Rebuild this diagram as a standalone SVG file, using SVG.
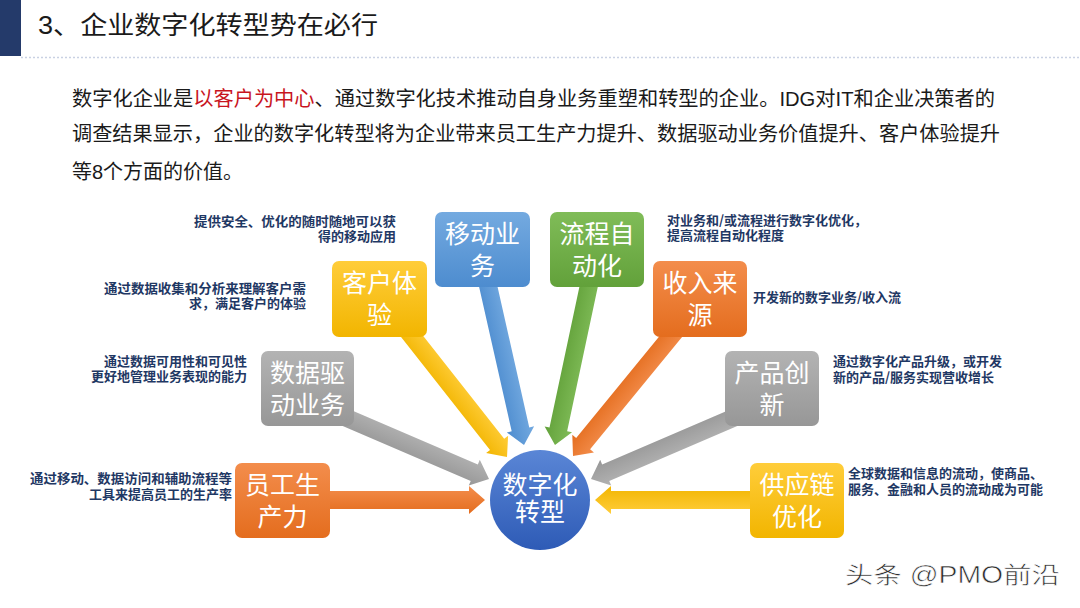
<svg xmlns="http://www.w3.org/2000/svg" width="1080" height="608" viewBox="0 0 1080 608">
<defs>
<linearGradient id="gBlue" x1="0" y1="0" x2="0" y2="1"><stop offset="0" stop-color="#74aae0"/><stop offset="1" stop-color="#4d8ccf"/></linearGradient>
<linearGradient id="gGreen" x1="0" y1="0" x2="0" y2="1"><stop offset="0" stop-color="#80bc58"/><stop offset="1" stop-color="#62a13a"/></linearGradient>
<linearGradient id="gYellow" x1="0" y1="0" x2="0" y2="1"><stop offset="0" stop-color="#ffcd3a"/><stop offset="1" stop-color="#f2b500"/></linearGradient>
<linearGradient id="gOrange" x1="0" y1="0" x2="0" y2="1"><stop offset="0" stop-color="#f38d4c"/><stop offset="1" stop-color="#e46d1e"/></linearGradient>
<linearGradient id="gGray" x1="0" y1="0" x2="0" y2="1"><stop offset="0" stop-color="#b3b3b3"/><stop offset="1" stop-color="#979797"/></linearGradient>
<linearGradient id="gCircle" x1="0" y1="0" x2="0" y2="1"><stop offset="0" stop-color="#5a86d6"/><stop offset="1" stop-color="#2e5bb6"/></linearGradient>
<style>
.para{font-family:"Liberation Sans","Noto Sans CJK SC",sans-serif;font-size:20px;fill:#1a1a1a}
.node rect{stroke:none}
.nt{font-family:"Noto Sans CJK SC",sans-serif;font-size:25px;fill:#ffffff;text-anchor:middle}
.desc{font-family:"Noto Sans CJK SC",sans-serif;font-size:13px;font-weight:600;fill:#1f3864}
.r{text-anchor:end}
</style>
</defs>
<rect width="1080" height="608" fill="#ffffff"/>
<!-- header -->
<rect x="0" y="0" width="21" height="56" fill="#243a6a"/>
<text x="38" y="34" font-family="Liberation Sans,'Noto Sans CJK SC',sans-serif" font-size="25" fill="#1a1a1a" textLength="340" lengthAdjust="spacingAndGlyphs">3、企业数字化转型势在必行</text>
<line x1="21" y1="57.5" x2="1080" y2="57.5" stroke="#c9d1e3" stroke-width="1.5" stroke-dasharray="2,2"/>
<!-- paragraph -->
<text class="para" x="72" y="106" textLength="923" lengthAdjust="spacingAndGlyphs">数字化企业是<tspan fill="#c8141e">以客户为中心</tspan>、通过数字化技术推动自身业务重塑和转型的企业。IDG对IT和企业决策者的</text>
<text class="para" x="72" y="141" textLength="928" lengthAdjust="spacingAndGlyphs">调查结果显示，企业的数字化转型将为企业带来员工生产力提升、数据驱动业务价值提升、客户体验提升</text>
<text class="para" x="72" y="179">等8个方面的价值。</text>
<!-- connectors -->
<g id="connectors">
<polygon fill="url(#gBlue)" transform="translate(524,445) rotate(77.3)" points="-170,-9 -16,-9 -16,-14 0,0 -16,14 -16,9 -170,9"/>
<polygon fill="url(#gGreen)" transform="translate(555,445) rotate(102)" points="-170,-9 -16,-9 -16,-14 0,0 -16,14 -16,9 -170,9"/>
<polygon fill="url(#gYellow)" transform="translate(507,457) rotate(51.8)" points="-200,-9 -16,-9 -16,-14 0,0 -16,14 -16,9 -200,9"/>
<polygon fill="url(#gOrange)" transform="translate(573,456) rotate(129.3)" points="-190,-9 -16,-9 -16,-14 0,0 -16,14 -16,9 -190,9"/>
<polygon fill="url(#gGray)" transform="translate(489,479) rotate(23.2)" points="-180,-9 -16,-9 -16,-14 0,0 -16,14 -16,9 -180,9"/>
<polygon fill="url(#gGray)" transform="translate(591,479) rotate(156.8)" points="-180,-9 -16,-9 -16,-14 0,0 -16,14 -16,9 -180,9"/>
<polygon fill="url(#gOrange)" transform="translate(485,500)" points="-180,-9 -16,-9 -16,-14 0,0 -16,14 -16,9 -180,9"/>
<polygon fill="url(#gYellow)" transform="translate(595,500) rotate(180)" points="-180,-9 -16,-9 -16,-14 0,0 -16,14 -16,9 -180,9"/>
</g>
<!-- nodes -->
<g id="n-mobile" class="node"><rect x="435" y="212" width="95" height="75" rx="7" fill="url(#gBlue)"/><text class="nt" x="482.5" y="243">移动业</text><text class="nt" x="482.5" y="275">务</text></g>
<g id="n-process" class="node"><rect x="550" y="212" width="94" height="75" rx="7" fill="url(#gGreen)"/><text class="nt" x="597" y="243">流程自</text><text class="nt" x="597" y="275">动化</text></g>
<g id="n-customer" class="node"><rect x="332" y="261" width="95" height="76" rx="7" fill="url(#gYellow)"/><text class="nt" x="379.5" y="292">客户体</text><text class="nt" x="379.5" y="324">验</text></g>
<g id="n-revenue" class="node"><rect x="653" y="261" width="94" height="76" rx="7" fill="url(#gOrange)"/><text class="nt" x="700" y="292">收入来</text><text class="nt" x="700" y="324">源</text></g>
<g id="n-data" class="node"><rect x="261" y="351" width="93" height="75" rx="7" fill="url(#gGray)"/><text class="nt" x="307.5" y="382">数据驱</text><text class="nt" x="307.5" y="414">动业务</text></g>
<g id="n-product" class="node"><rect x="725" y="351" width="94" height="75" rx="7" fill="url(#gGray)"/><text class="nt" x="772" y="382">产品创</text><text class="nt" x="772" y="414">新</text></g>
<g id="n-employee" class="node"><rect x="235" y="463" width="95" height="75" rx="7" fill="url(#gOrange)"/><text class="nt" x="282.5" y="494">员工生</text><text class="nt" x="282.5" y="526">产力</text></g>
<g id="n-supply" class="node"><rect x="750" y="463" width="94" height="75" rx="7" fill="url(#gYellow)"/><text class="nt" x="797" y="494">供应链</text><text class="nt" x="797" y="526">优化</text></g>
<g id="n-center" class="node"><circle cx="540" cy="500" r="50" fill="url(#gCircle)"/><text class="nt" x="540" y="494" font-size="22">数字化</text><text class="nt" x="540" y="521" font-size="22">转型</text></g>
<!-- descriptions -->
<g id="descriptions">
<text class="desc r" x="396" y="226" textLength="202" lengthAdjust="spacingAndGlyphs">提供安全、优化的随时随地可以获</text>
<text class="desc r" x="396" y="241">得的移动应用</text>
<text class="desc r" x="306" y="293" textLength="202" lengthAdjust="spacingAndGlyphs">通过数据收集和分析来理解客户需</text>
<text class="desc r" x="306" y="308">求，满足客户的体验</text>
<text class="desc r" x="247" y="366">通过数据可用性和可见性</text>
<text class="desc r" x="247" y="381">更好地管理业务表现的能力</text>
<text class="desc r" x="232" y="483" textLength="202" lengthAdjust="spacingAndGlyphs">通过移动、数据访问和辅助流程等</text>
<text class="desc r" x="232" y="499">工具来提高员工的生产率</text>
<text class="desc" x="667" y="225">对业务和/或流程进行数字化优化，</text>
<text class="desc" x="667" y="240">提高流程自动化程度</text>
<text class="desc" x="753" y="302">开发新的数字业务/收入流</text>
<text class="desc" x="833" y="366">通过数字化产品升级，或开发</text>
<text class="desc" x="833" y="382">新的产品/服务实现营收增长</text>
<text class="desc" x="848" y="478">全球数据和信息的流动，使商品、</text>
<text class="desc" x="848" y="494">服务、金融和人员的流动成为可能</text>
</g>
<text x="845" y="583" font-family="'Liberation Sans','Noto Sans CJK SC',sans-serif" font-size="23" fill="#2a2a2a" stroke="#ffffff" stroke-width="0.6" textLength="215" lengthAdjust="spacingAndGlyphs">头条 @PMO前沿</text>
</svg>
